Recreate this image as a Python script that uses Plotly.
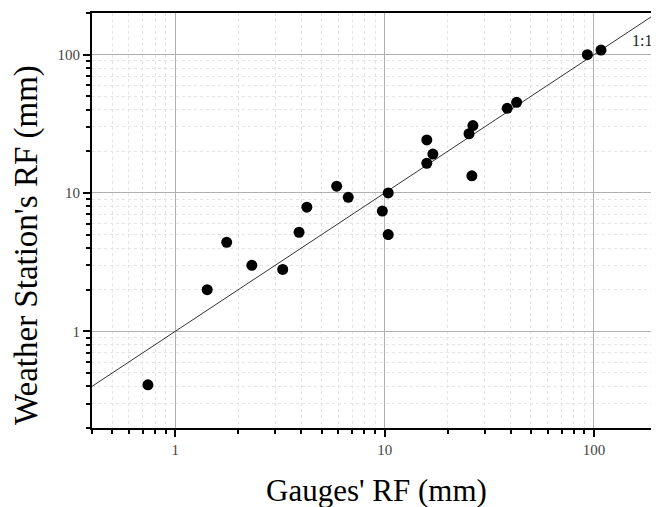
import plotly.graph_objects as go

# Data (mm)
gauges_rf = [0.74, 1.42, 1.76, 2.32, 3.26, 3.9, 4.25, 5.9, 6.7, 9.75, 10.4, 10.4,
             15.9, 17.0, 15.9, 26.1, 25.3, 26.4, 38.5, 42.7, 93, 108]
station_rf = [0.41, 2.0, 4.4, 3.0, 2.8, 5.2, 7.9, 11.2, 9.3, 7.4, 10.0, 5.0,
              24.2, 19.1, 16.4, 13.3, 26.8, 30.7, 40.9, 45.2, 100, 108]
one_to_one = [0.4, 200]
tick_vals = [1, 10, 100]
tick_text = ["1", "10", "100"]
x_minor = [0.4, 0.5, 0.6, 0.7, 0.8, 0.9, 2, 3, 4, 5, 6, 7, 8, 9,
           20, 30, 40, 50, 60, 70, 80, 90, 200]
y_minor = [0.2, 0.3] + x_minor

FONT = "Liberation Serif"

fig = go.Figure()
fig.add_trace(go.Scatter(x=one_to_one, y=one_to_one, mode="lines",
                         line=dict(color="#333333", width=1), showlegend=False,
                         hoverinfo="skip"))
fig.add_trace(go.Scatter(x=gauges_rf, y=station_rf, mode="markers",
                         marker=dict(color="black", size=11), showlegend=False))

fig.add_annotation(x=1, y=1, xref="paper", yref="paper", xanchor="right", yanchor="top",
                   text="1:1", showarrow=False, xshift=-3, yshift=-17,
                   font=dict(family=FONT, size=16, color="#222"))

fig.add_annotation(x=0.5, y=0, xref="paper", yref="paper", xanchor="center", yanchor="middle",
                   text="Gauges' RF (mm)", showarrow=False, yshift=-62, xshift=2,
                   font=dict(family=FONT, size=31, color="black"))
fig.add_annotation(x=0, y=0.441, xref="paper", yref="paper", xanchor="center", yanchor="middle",
                   text="Weather Station's RF (mm)", showarrow=False, textangle=-90, xshift=-65,
                   font=dict(family=FONT, size=33, color="black"))


def axis_common(minor_vals):
    return dict(
        type="log", showline=True, mirror=True, linecolor="black", linewidth=2,
        ticks="outside", ticklen=7, tickwidth=1.5, tickcolor="black",
        showgrid=True, gridcolor="#b0b0b0", gridwidth=1,
        tickvals=tick_vals, ticktext=tick_text,
        tickfont=dict(family=FONT, size=15, color="#444"),
        zeroline=False, automargin=False,
        minor=dict(tickvals=minor_vals, ticks="outside", ticklen=4, tickwidth=1.5,
                   tickcolor="black", showgrid=True, gridcolor="#e4e4e4",
                   griddash="dot", gridwidth=1),
    )


fig.update_xaxes(**axis_common(x_minor), range=[-0.39794, 2.30103])
fig.update_yaxes(**axis_common(y_minor), range=[-0.69897, 2.30103])

fig.update_layout(width=659, height=507, margin=dict(l=84, r=10, t=5, b=87),
                  plot_bgcolor="white", paper_bgcolor="white")

fig.write_html("out.html")
